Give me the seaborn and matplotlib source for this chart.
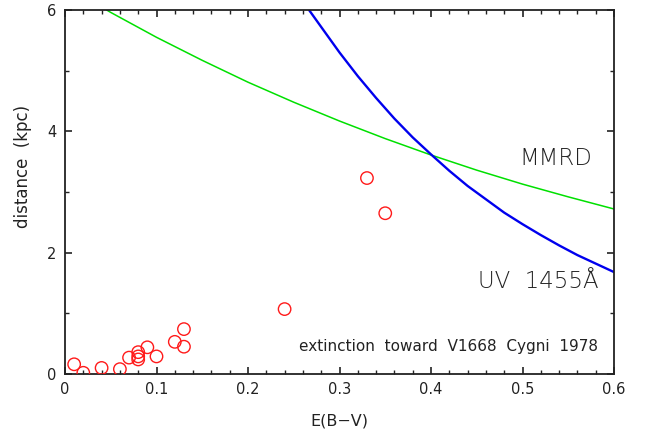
import matplotlib
matplotlib.use("Agg")
import matplotlib.pyplot as plt
import seaborn as sns
import pandas as pd
from matplotlib.ticker import MultipleLocator

# observed points: E(B-V), distance (kpc)
obs_ebv = [0.01, 0.02, 0.04, 0.06, 0.07, 0.08, 0.08, 0.08, 0.09, 0.10,
           0.12, 0.13, 0.13, 0.24, 0.33, 0.35]
obs_dist = [0.16, 0.02, 0.10, 0.08, 0.27, 0.36, 0.29, 0.24, 0.44, 0.29,
            0.53, 0.74, 0.45, 1.07, 3.23, 2.65]

# MMRD curve
mmrd_ebv = [0.0455, 0.05, 0.10, 0.15, 0.20, 0.25, 0.30, 0.35, 0.40, 0.45, 0.50, 0.55, 0.60]
mmrd_dist = [6.00, 5.96, 5.55, 5.17, 4.81, 4.48, 4.17, 3.88, 3.61, 3.36, 3.13, 2.92, 2.72]

# UV 1455A curve
uv_ebv = [0.2667, 0.28, 0.30, 0.32, 0.34, 0.36, 0.38, 0.40, 0.42, 0.44, 0.46,
          0.48, 0.50, 0.52, 0.54, 0.56, 0.58, 0.60]
uv_dist = [6.00, 5.72, 5.30, 4.91, 4.55, 4.21, 3.90, 3.62, 3.35, 3.10, 2.88,
           2.66, 2.47, 2.29, 2.12, 1.96, 1.82, 1.68]

sns.set_style("ticks")
plt.rcParams['font.family'] = ['DejaVu Sans']

fig = plt.figure(figsize=(6.49, 4.37), dpi=100)
ax = fig.add_axes([65/649, 63/437, 549/649, 364/437])

sns.lineplot(x=mmrd_ebv, y=mmrd_dist, ax=ax, color="#00e000", lw=1.1,
             sort=False, estimator=None)
sns.lineplot(x=uv_ebv, y=uv_dist, ax=ax, color="#0000ee", lw=1.7,
             sort=False, estimator=None)
sns.scatterplot(x=obs_ebv, y=obs_dist, ax=ax, marker="o", s=80,
                facecolor="none", edgecolor="#ff1a1a", linewidth=1.0, zorder=3)

ax.set_xlim(0, 0.6)
ax.set_ylim(0, 6)
ax.xaxis.set_major_locator(MultipleLocator(0.1))
ax.xaxis.set_minor_locator(MultipleLocator(0.02))
ax.yaxis.set_major_locator(MultipleLocator(2))
ax.yaxis.set_minor_locator(MultipleLocator(1))
ax.set_xticks([0, 0.1, 0.2, 0.3, 0.4, 0.5, 0.6])
ax.set_xticklabels(["0", "0.1", "0.2", "0.3", "0.4", "0.5", "0.6"])
ax.set_yticks([0, 2, 4, 6])
ax.set_yticklabels(["0", "2", "4", "6"])
ax.tick_params(which="both", direction="in", top=True, right=True,
               labelsize=10.5, colors="#222222", pad=6)
ax.tick_params(which="major", length=5, width=1.2)
ax.tick_params(which="minor", length=3, width=1.0)
for sp in ax.spines.values():
    sp.set_linewidth(1.3)
    sp.set_color("#222222")

ax.set_xlabel("E(B\u2212V)", fontsize=11.5, color="#222222", labelpad=12)
ax.set_ylabel("distance  (kpc)", fontsize=12, color="#222222")
ax.yaxis.set_label_coords(-0.06, 0.57)

ax.text(0.576, 3.55, "MMRD", fontsize=16.5, ha="right", va="center",
        color="#222222", fontweight="light")
ax.text(0.583, 1.53, "UV  1455\u00c5", fontsize=16.5, ha="right", va="center",
        color="#222222", fontweight="light")
ax.text(0.583, 0.45, "extinction  toward  V1668  Cygni  1978", fontsize=11,
        ha="right", va="center", color="#222222")

fig.savefig("out.png", dpi=100)
